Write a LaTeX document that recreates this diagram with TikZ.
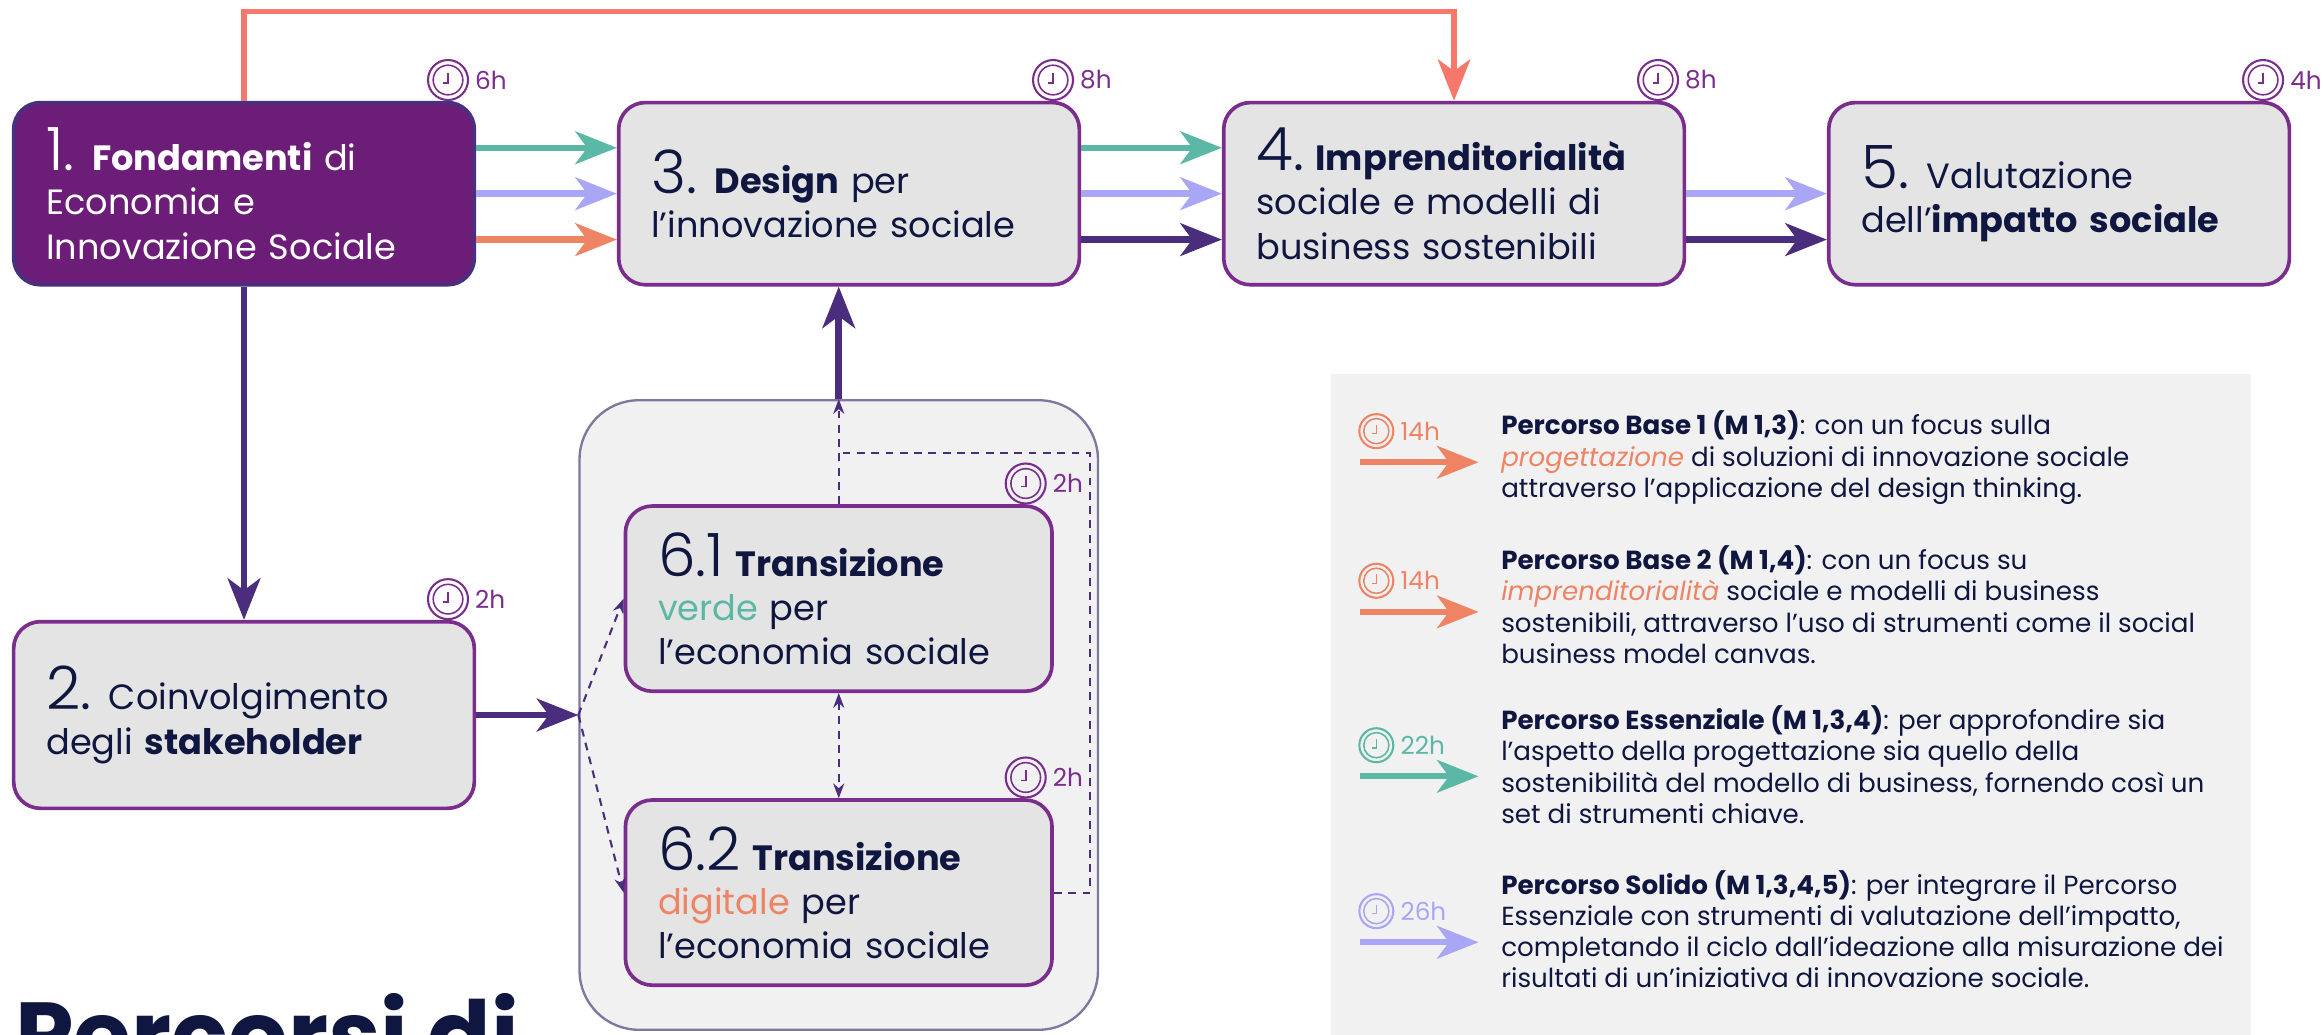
\documentclass[tikz,border=0pt]{standalone}
\usepackage{fontspec}
\setmainfont{Poppins}
\newfontfamily\sottile{Poppins}[UprightFont={* Light}]
\usetikzlibrary{arrows.meta,positioning}

\definecolor{blu}{HTML}{0F1640}
\definecolor{viola}{HTML}{6C1D78}
\definecolor{bordoscuro}{HTML}{46307F}
\definecolor{bordo}{HTML}{7B2D8E}
\definecolor{grigio}{HTML}{E4E4E4}
\definecolor{chiaro}{HTML}{F1F1F2}
\definecolor{scuro}{HTML}{4A2D7C}
\definecolor{verde}{HTML}{5CB8A6}
\definecolor{lilla}{HTML}{A8A6F5}
\definecolor{salmone}{HTML}{EE8464}
\definecolor{rosso}{HTML}{F7786A}
\definecolor{cornice}{HTML}{7F789E}

\newcommand{\grande}{\sottile\fontsize{23}{17}\selectfont}
\newcommand{\piccolo}{\fontsize{10.05}{12}\selectfont\lineskiplimit=-6pt\relax}

\tikzset{
  modulo/.style={draw=bordo, line width=1.4pt, fill=grigio, rounded corners=0.36cm,
    text width=5.34cm, inner xsep=0.44cm, minimum height=2.46cm, align=left,
    text=blu, font=\fontsize{13.5}{17}\selectfont},
  gruppo/.style={draw=cornice, line width=0.9pt, fill=chiaro, rounded corners=0.8cm,
    minimum width=7cm, minimum height=8.5cm},
  freccia/.style={line width=2.5pt},
  tratto/.style={scuro, line width=0.8pt, dash pattern=on 3pt off 2.5pt,
    >={Stealth[length=0.2cm,width=0.15cm]}},
  ore/.style={text=bordo, font=\fontsize{9.5}{10}\selectfont, inner sep=0},
  testo/.style={anchor=north west, inner sep=0, align=left, text=blu, font=\piccolo},
  orologio/.pic={
    \draw[line width=0.8pt] (0,0) circle (0.27cm);
    \draw[line width=0.6pt] (0,0) circle (0.2cm);
    \draw[line width=0.6pt] (0,0.1cm) -- (0,-0.04cm) -- (-0.07cm,-0.04cm);
  },
}

\begin{document}
\begin{tikzpicture}[x=0.02cm, y=-0.02cm,
    >={Stealth[length=0.56cm,width=0.44cm,inset=0.16cm]}]
  \path[use as bounding box, fill=white] (0,0) rectangle (1568,698.6);
  \clip (0,0) rectangle (1568,698.6);

  \node[modulo, fill=viola, draw=bordoscuro, text=white, anchor=north west] (1) at (8,68)
    {{\grande 1.} \textbf{Fondamenti} di\\Economia e\\Innovazione Sociale};
  \node[modulo, right=1.9cm of 1] (3) {{\grande 3.} \textbf{Design} per\\l’innovazione sociale};
  \node[modulo, right=1.9cm of 3] (4) {{\grande 4.}~\textbf{Imprenditorialità}\\sociale e modelli di\\business sostenibili};
  \node[modulo, right=1.9cm of 4] (5) {{\grande 5.} Valutazione\\dell'\textbf{impatto sociale}};
  \node[modulo, minimum height=2.52cm, below=4.5cm of 1] (2) {{\grande 2.} Coinvolgimento\\degli \textbf{stakeholder}};

  \node[gruppo, right=1.38cm of 2] (6) {};
  \node[modulo, text width=4.88cm, minimum height=2.5cm,
    below=1.42cm of 6.north] (61) {{\grande 6.1} \textbf{Transizione}\\{\color{verde}verde} per\\l'economia sociale};
  \node[modulo, text width=4.88cm, minimum height=2.5cm,
    below=1.42cm of 61] (62) {{\grande 6.2} \textbf{Transizione}\\{\color{salmone}digitale} per\\l'economia sociale};

  \foreach \n/\h in {1/6h,3/8h,4/8h,5/4h,2/2h,61/2h,62/2h}{
    \pic[bordo] at ([xshift=-0.38cm,yshift=0.28cm]\n.north east) {orologio};
    \node[ore, anchor=west] (h\n) at ([xshift=-0.02cm,yshift=0.28cm]\n.north east) {\h};
  }

  \coordinate (alto) at (570,8);
  \draw[->,freccia,rosso,line width=2pt] (1.north) |- (alto) -| (4.north);

  \foreach \c/\s in {verde/0.62,lilla/0,salmone/-0.62}
    \draw[->,freccia,\c] ([yshift=\s cm]1.east) -- ([yshift=\s cm]3.west);
  \foreach \c/\s in {verde/0.62,lilla/0,scuro/-0.62}
    \draw[->,freccia,\c] ([yshift=\s cm]3.east) -- ([yshift=\s cm]4.west);
  \foreach \c/\s in {lilla/0,scuro/-0.62}
    \draw[->,freccia,\c] ([yshift=\s cm]4.east) -- ([yshift=\s cm]5.west);

  \draw[->,freccia,scuro] (1.south) -- (2.north);
  \draw[->,freccia,scuro] (2.east) -- (6.west);
  \draw[->,freccia,scuro] (6.north) -- (6.north |- 3.south);

  \draw[tratto,->] (6.west) -- (61.west);
  \draw[tratto,->] (6.west) -- (62.west);
  \draw[tratto,->] (61.north) -- (61.north |- 6.north);
  \draw[tratto,<->] (61.south) -- (62.north);
  \coordinate (giro) at (736,306);
  \draw[tratto] (62.east) -| (giro) -- (giro -| 61.north);

  \node[fill=chiaro, minimum width=12.42cm, minimum height=9.6cm, anchor=north west] (leg) at (898,252) {};
  \foreach \i/\y/\c/\h in {1/291/salmone/14h,2/392/salmone/14h,3/503/verde/22h,4/615/lilla/26h}{
    \pic[\c, scale=0.85] at (929,\y) {orologio};
    \node[ore, text=\c, anchor=west] (o\i) at (945,\y) {\h};
    \coordinate (p\i) at (918,\y+21);
    \draw[->,freccia,\c,line width=2.2pt] (p\i) -- ++(80,0);
  }
  \node[testo] (l1) at (1013,277) {\textbf{Percorso Base 1 (M 1,3)}: con un focus sulla\\
    \textit{\color{salmone}progettazione} di soluzioni di innovazione sociale\\
    attraverso l’applicazione del design thinking.};
  \node[testo] (l2) at (1013,368) {\textbf{Percorso Base 2 (M 1,4)}: con un focus su\\
    \textit{\color{salmone}imprenditorialità} sociale e modelli di business\\
    sostenibili, attraverso l’uso di strumenti come il social\\
    business model canvas.};
  \node[testo] (l3) at (1013,476) {\textbf{Percorso Essenziale (M 1,3,4)}: per approfondire sia\\
    l’aspetto della progettazione sia quello della\\
    sostenibilità del modello di business, fornendo così un\\
    set di strumenti chiave.};
  \node[testo] (l4) at (1013,587) {\textbf{Percorso Solido (M 1,3,4,5)}: per integrare il Percorso\\
    Essenziale con strumenti di valutazione dell’impatto,\\
    completando il ciclo dall’ideazione alla misurazione dei\\
    risultati di un’iniziativa di innovazione sociale.};

  \node[anchor=base west, inner sep=0, text=blu, font=\fontsize{36}{36}\selectfont\bfseries] (titolo) at (10,721) {Percorsi di};
\end{tikzpicture}
\end{document}
